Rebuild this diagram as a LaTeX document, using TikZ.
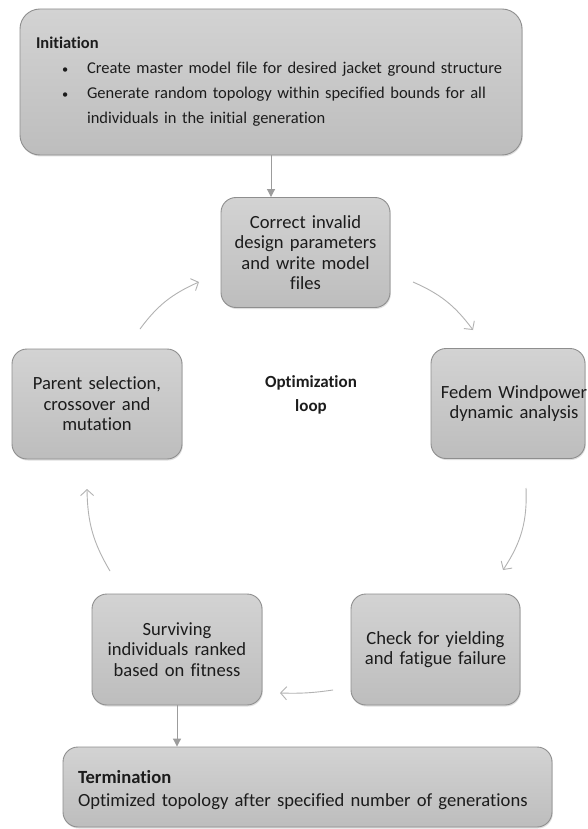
\documentclass[tikz,border=0pt]{standalone}
\usepackage{fontspec}
\setmainfont{Carlito}[Ligatures=NoCommon]
\usetikzlibrary{arrows.meta,shadows,bending}
\definecolor{boxtop}{HTML}{D3D3D3}
\definecolor{boxbot}{HTML}{BDBDBD}
\definecolor{boxline}{HTML}{8E8E8E}
\definecolor{flowline}{HTML}{9C9C9C}
\definecolor{loopline}{HTML}{B2B2B2}
\definecolor{txt}{HTML}{1C1C1C}
\newcommand{\smbullet}{\scalebox{0.75}{\textbullet}}
\begin{document}
\begin{tikzpicture}[x=1pt,y=-1pt,
  box/.style={draw=boxline, line width=0.9pt, rounded corners=15pt,
    top color=boxtop, bottom color=boxbot,
    drop shadow={shadow xshift=0.8pt, shadow yshift=-1.5pt, opacity=0.25},
    align=center, font=\fontsize{18.6}{20.5}\selectfont, text=txt, inner sep=0pt},
  smallbox/.style={box, minimum height=110pt},
  flow/.style={draw=flowline, line width=1pt, -{Triangle[length=8pt,width=8pt]}},
  loopar/.style={draw=loopline, line width=0.9pt, -{Straight Barb[length=6pt,width=13pt]}},
  looplabel/.style={font=\bfseries\fontsize{17}{24}\selectfont, align=center, text=txt}
]
\useasboundingbox (0,0) rectangle (588,829);
\fill[white] (0,0) rectangle (588,829);

\node[box, rounded corners=20pt, minimum width=502pt, minimum height=146pt,
  align=left, text width=470pt, font=\fontsize{16.5}{25}\selectfont] (init) at (271,82)
  {\textbf{Initiation}\\
   \hspace*{26pt}\makebox[25pt][l]{\smbullet}Create master model file for desired jacket ground structure\\
   \hspace*{26pt}\makebox[25pt][l]{\smbullet}Generate random topology within specified bounds for all\\
   \hspace*{51pt}individuals in the initial generation};

\node[smallbox, minimum width=169pt, text width=165pt] (correct) at (305.5,252.5)
  {Correct invalid\\design parameters\\and write model\\files};
\node[smallbox, minimum width=154pt, text width=154pt, font=\fontsize{18.6}{20}\selectfont] (fedem) at (508,403.5)
  {\makebox[154pt][c]{\hspace{12pt}Fedem Windpower}\\\makebox[154pt][c]{\hspace{12pt}dynamic analysis}};
\node[smallbox, minimum width=170pt, text width=165pt] (parent) at (97,404)
  {Parent selection,\\crossover and\\mutation};
\node[smallbox, minimum width=170pt, minimum height=111pt, text width=165pt] (surv) at (177,649.5)
  {Surviving\\individuals ranked\\based on fitness};
\node[smallbox, minimum width=169pt, minimum height=111pt, text width=165pt] (check) at (435.5,649.5)
  {Check for yielding\\and fatigue failure};
\node[box, minimum width=489pt, minimum height=80pt, align=left, text width=459pt,
  font=\fontsize{18.6}{23}\selectfont] (term) at (307.5,787)
  {\rule{0pt}{20pt}\textbf{Termination}\\Optimized topology after specified number of generations};

\node[looplabel] (looptxt) at (311,395) {Optimization\\loop};

\draw[flow] (init.south) -- (init.south |- correct.north);
\draw[flow] (surv.south) -- (surv.south |- term.north);

\coordinate (c1s) at (413,282); \coordinate (c1e) at (473,330);
\coordinate (c2s) at (526,488); \coordinate (c2e) at (503,570);
\coordinate (c3s) at (333,690); \coordinate (c3e) at (280,693);
\coordinate (c4s) at (110,571); \coordinate (c4e) at (87,489);
\coordinate (c5s) at (140,329); \coordinate (c5e) at (199,282);

\draw[loopar] (c1s) to[bend left=15] (c1e);
\draw[loopar] (c2s) to[bend left=18] (c2e);
\draw[loopar] (c3s) to[bend left=5] (c3e);
\draw[loopar] (c4s) to[bend left=15] (c4e);
\draw[loopar] (c5s) to[bend left=15] (c5e);
\end{tikzpicture}
\end{document}
